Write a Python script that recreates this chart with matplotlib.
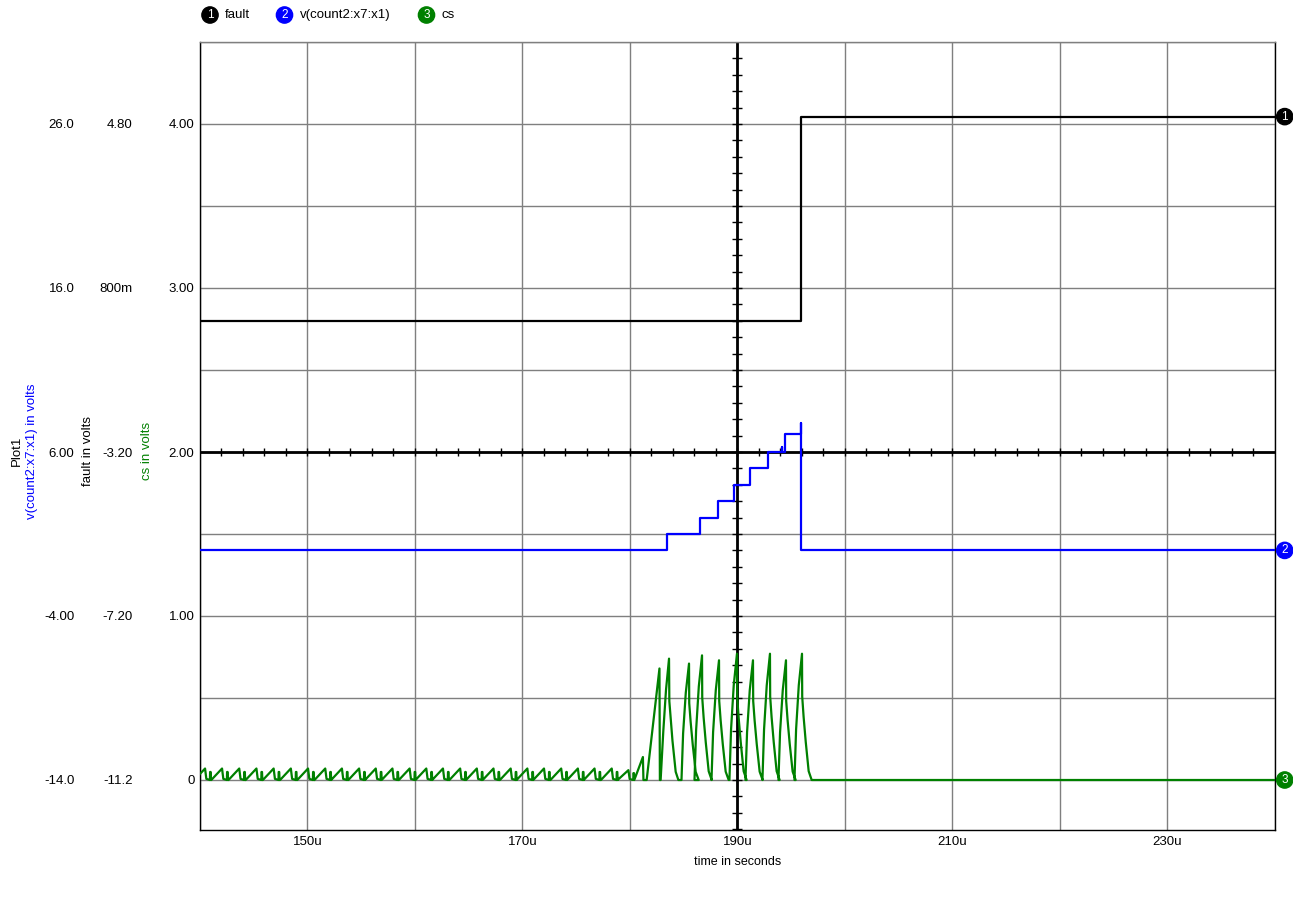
import numpy as np
import matplotlib.pyplot as plt

plt.rcParams['font.family'] = ['Liberation Sans', 'DejaVu Sans']

# time axis in microseconds
t_min, t_max = 140, 240

# fault trace (volts): step low -> high
fault_t = [140.0, 195.95, 195.95, 240.0]
fault_v = [0.0, 0.0, 4.98, 4.98]

# v(count2:x7:x1) staircase (volts)
count_t = [140.0, 183.4, 183.4, 186.5, 186.5, 188.2, 188.2, 189.7, 189.7, 191.2, 191.2,
           192.8, 192.8, 194.1, 194.1, 194.15, 194.15, 194.4, 194.4, 195.9, 195.9, 195.95, 195.95, 240.0]
count_v = [0.0, 0.0, 1.0, 1.0, 2.0, 2.0, 3.0, 3.0, 4.0, 4.0, 5.0,
           5.0, 6.0, 6.0, 6.3, 6.3, 6.0, 6.0, 7.1, 7.1, 7.75, 7.75, 0.0, 0.0]

# cs: small sawtooth teeth before the burst (peak times, us / peak volts)
tooth_t = [140.47, 142.05, 143.65, 145.25, 146.85, 148.45, 150.05, 151.65, 153.2, 154.8,
           156.35, 157.9, 159.5, 161.05, 162.6, 164.2, 165.75, 167.3, 168.9, 170.45,
           172.0, 173.6, 175.15, 176.7, 178.3, 179.85, 181.2]
tooth_v = [0.07, 0.07, 0.07, 0.07, 0.07, 0.07, 0.07, 0.07, 0.07, 0.07,
           0.07, 0.07, 0.07, 0.07, 0.07, 0.07, 0.07, 0.07, 0.07, 0.07,
           0.07, 0.07, 0.07, 0.07, 0.07, 0.06, 0.14]

# cs: large current pulses (peak times, us / peak volts)
pulse_t = [185.49, 186.70, 188.28, 189.95, 191.44, 193.02, 194.51, 196.00]
pulse_v = [0.71, 0.76, 0.73, 0.77, 0.73, 0.77, 0.73, 0.77]

ramp_t = [181.2, 181.25, 181.55, 182.74, 182.78, 182.85, 183.1, 183.35, 183.63, 183.66, 183.95, 184.25, 184.5]
ramp_v = [0.14, 0.0, 0.0, 0.68, 0.0, 0.0, 0.3, 0.55, 0.74, 0.48, 0.24, 0.05, 0.0]

# pulse shape read from one pulse: (time offset from peak in us, fraction of peak)
shape_dt = [-0.7, -0.55, -0.3, 0.0, 0.02, 0.15, 0.35, 0.62, 0.9]
shape_f = [0.0, 0.4, 0.75, 1.0, 0.66, 0.5, 0.3, 0.07, 0.0]

# tooth shape: (offset, fraction)
tooth_dt = [-1.0, 0.0, 0.12, 0.45, 0.47, 0.52, 0.55]
tooth_f = [0.0, 1.0, 0.1, 0.0, 0.7, 0.7, 0.0]

cs_t, cs_v = [], []
for tp, vp in zip(tooth_t[:-1], tooth_v[:-1]):
    for dt, f in zip(tooth_dt, tooth_f):
        cs_t.append(tp + dt)
        cs_v.append(vp * f)
cs_t += ramp_t
cs_v += ramp_v
for tp, vp in zip(pulse_t, pulse_v):
    for dt, f in zip(shape_dt, shape_f):
        cs_t.append(tp + dt)
        cs_v.append(vp * f)
cs_t += [240.0]
cs_v += [0.0]

# scale mapping onto the cs axis (cs axis is the plotting axis)
def fault_to_cs(v):
    return (np.asarray(v) + 11.2) / 4.0

def cs_to_fault(v):
    return np.asarray(v) * 4.0 - 11.2

def count_to_cs(v):
    return (np.asarray(v) + 14.0) / 10.0

def cs_to_count(v):
    return np.asarray(v) * 10.0 - 14.0

cs_ticks = [0, 1, 2, 3, 4]
cs_labels = ['0', '1.00', '2.00', '3.00', '4.00']
fault_ticks = [-11.2, -7.2, -3.2, 0.8, 4.8]
fault_labels = ['-11.2', '-7.20', '-3.20', '800m', '4.80']
count_ticks = [-14, -4, 6, 16, 26]
count_labels = ['-14.0', '-4.00', '6.00', '16.0', '26.0']
x_labels = {150: '150u', 170: '170u', 190: '190u', 210: '210u', 230: '230u'}

W, H = 1293, 898
fig = plt.figure(figsize=(W / 100, H / 100), dpi=100)
ax = fig.add_axes([200 / W, 1 - 830 / H, 1075 / W, (830 - 42) / H])
ax.set_xlim(t_min, t_max)
ax.set_ylim(4.5 - (830 - 42) / 164, 4.5)

grid_c = '#7f7f7f'
xt = np.arange(140, 241, 10)
ax.set_xticks(xt)
ax.set_xticklabels([x_labels.get(int(v), '') for v in xt], fontsize=9.5)
ax.set_yticks(np.arange(0, 4.6, 0.5))
ax.set_yticklabels([cs_labels[cs_ticks.index(v)] if v in cs_ticks else '' for v in np.arange(0, 4.6, 0.5)],
                   fontsize=9.5)
ax.tick_params(length=0, pad=4)
ax.grid(True, color=grid_c, lw=1)
for s in ax.spines.values():
    s.set_color('black')
    s.set_linewidth(1)
ax.spines['top'].set_color(grid_c)
ax.set_axisbelow(True)
ax.set_xlabel('time in seconds', fontsize=9, labelpad=6)

# main cross axes with small ticks
ax.axhline(2.0, color='black', lw=2, zorder=2)
ax.axvline(190, color='black', lw=2, zorder=2)
hx = np.arange(142, 240, 2)
ax.plot(hx, np.full(len(hx), 2.0), ls='none', marker='|', ms=6, mew=1, color='black', zorder=2)
vy = np.arange(-0.3, 4.5, 0.1)
ax.plot(np.full(len(vy), 190), vy, ls='none', marker='_', ms=7, mew=1, color='black', zorder=2)

# traces
ax.plot(fault_t, fault_to_cs(fault_v), color='black', lw=1.6, zorder=4)
ax.plot(count_t, count_to_cs(count_v), color='#0000ff', lw=1.6, zorder=4)
ax.plot(cs_t, cs_v, color='#008000', lw=1.6, zorder=3)

# extra left scales
sec_f = ax.secondary_yaxis(-62 / 1075, functions=(cs_to_fault, fault_to_cs))
sec_f.set_yticks(fault_ticks)
sec_f.set_yticklabels(fault_labels, fontsize=9.5)
sec_c = ax.secondary_yaxis(-120 / 1075, functions=(cs_to_count, count_to_cs))
sec_c.set_yticks(count_ticks)
sec_c.set_yticklabels(count_labels, fontsize=9.5)
for sec in (sec_f, sec_c):
    sec.spines['left'].set_visible(False)
    sec.tick_params(length=0, pad=4)

yc = 1 - 451 / H
fig.text(17 / W, yc, 'Plot1', rotation=90, ha='center', va='center', fontsize=9.5)
fig.text(32.5 / W, yc, 'v(count2:x7:x1) in volts', rotation=90, ha='center', va='center',
         fontsize=9.5, color='#0000ff')
fig.text(88 / W, yc, 'fault in volts', rotation=90, ha='center', va='center', fontsize=9.5)
fig.text(146.5 / W, yc, 'cs in volts', rotation=90, ha='center', va='center', fontsize=9.5,
         color='#008000')

# legend at top
legend = [('1', 'fault', 'black', 210), ('2', 'v(count2:x7:x1)', '#0000ff', 284.5), ('3', 'cs', '#008000', 426.5)]
for num, name, col, xp in legend:
    fig.text(xp / W, 1 - 15 / H, num, ha='center', va='center', color='white', fontsize=8.5,
             bbox=dict(boxstyle='circle,pad=0.18', fc=col, ec=col))
    fig.text((xp + 15) / W, 1 - 15 / H, name, ha='left', va='center', fontsize=9.5)

# trace end markers on the right
ends = [('1', fault_to_cs(fault_v[-1]), 'black'), ('2', count_to_cs(count_v[-1]), '#0000ff'),
        ('3', cs_v[-1], '#008000')]
for num, yv, col in ends:
    ax.annotate(num, xy=(1.0, yv), xycoords=('axes fraction', 'data'), xytext=(7, 0),
                textcoords='offset points', ha='center', va='center', color='white', fontsize=8.5,
                bbox=dict(boxstyle='circle,pad=0.18', fc=col, ec=col), annotation_clip=False, zorder=6)

fig.savefig('out.png', dpi=100)
